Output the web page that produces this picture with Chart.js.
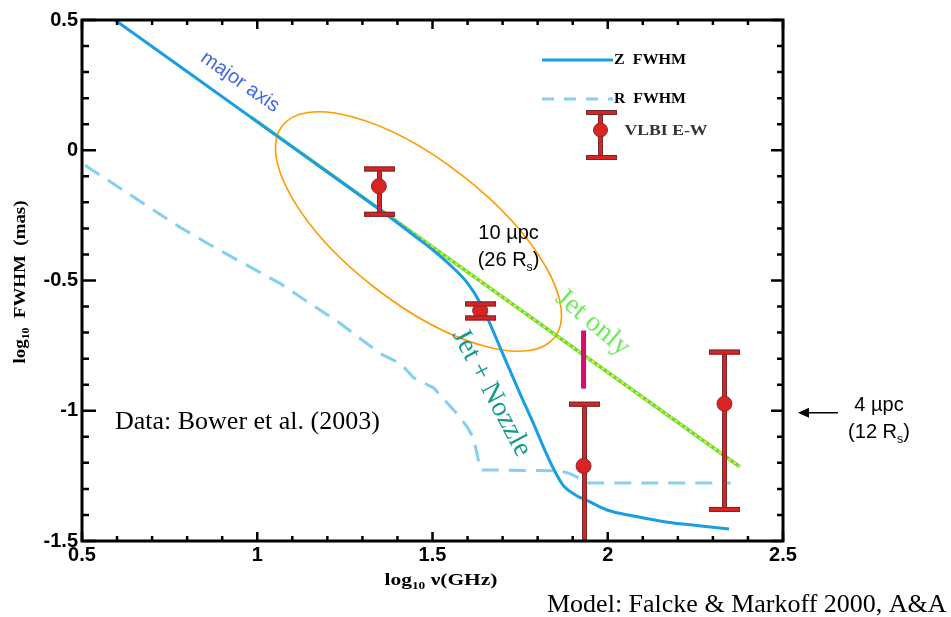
<!DOCTYPE html>
<html>
<head>
<meta charset="utf-8">
<script src="https://cdn.jsdelivr.net/npm/chart.js@4.4.1/dist/chart.umd.min.js"></script>
<style>
  html, body { margin: 0; padding: 0; background: #fff; }
  #wrap { width: 951px; height: 617px; position: relative; }
</style>
</head>
<body>
<div id="wrap"><canvas id="fwhmChart"></canvas></div>
<script>
// Z FWHM (jet + nozzle model)
const zFreq = [0.594, 1.103, 1.343, 1.409, 1.45, 1.503, 1.55, 1.60, 1.637, 1.666, 1.70, 1.75, 1.79, 1.82, 1.85, 1.875, 1.91, 1.943, 2.0, 2.074, 2.171, 2.266, 2.346];
const zFwhm = [0.500, 0.010, -0.222, -0.288, -0.330, -0.385, -0.440, -0.510, -0.588, -0.672, -0.780, -0.935, -1.055, -1.150, -1.235, -1.290, -1.325, -1.346, -1.382, -1.404, -1.428, -1.442, -1.454];

// R FWHM (dashed)
const rFreq = [0.509, 0.780, 0.894, 1.066, 1.237, 1.351, 1.409, 1.446, 1.503, 1.580, 1.600, 1.617, 1.637, 1.866, 1.894, 1.946, 2.351];
const rFwhm = [-0.058, -0.296, -0.385, -0.512, -0.665, -0.781, -0.819, -0.873, -0.912, -1.027, -1.065, -1.104, -1.227, -1.231, -1.242, -1.277, -1.277];

// Jet only model line
const jetFreq = [0.98, 2.377];
const jetFwhm = [0.129, -1.215];

// VLBI E-W measurements with error bars
const vlbiFreq = [1.347, 1.636, 1.931, 2.333];
const vlbiFwhm = [-0.138, -0.615, -1.212, -0.973];
const vlbiHigh = [-0.070, -0.588, -0.973, -0.773];
const vlbiLow = [-0.244, -0.642, -1.62, -1.377];

// magenta marker bar
const barFreq = [1.931];
const barTop = [-0.692];
const barBottom = [-0.915];

const xTicks = [0.5, 1, 1.5, 2, 2.5];
const yTicks = [0.5, 0, -0.5, -1, -1.5];

const SERIF = '"Liberation Serif", "Times New Roman", serif';
const SANS = '"Liberation Sans", Arial, sans-serif';

function pts(xs, ys) {
  return xs.map((x, i) => ({ x: x, y: ys[i] }));
}

// text made of parts, some of them subscript
function drawParts(ctx, parts, x, y, size, font, align) {
  let total = 0;
  const widths = parts.map(p => {
    ctx.font = (p.bold ? 'bold ' : '') + (p.sub ? size * 0.62 : size) + 'px ' + font;
    const w = ctx.measureText(p.t).width;
    total += w;
    return w;
  });
  let cx = align === 'center' ? x - total / 2 : x;
  ctx.textAlign = 'left';
  ctx.textBaseline = 'alphabetic';
  parts.forEach((p, i) => {
    ctx.font = (p.bold ? 'bold ' : '') + (p.sub ? size * 0.62 : size) + 'px ' + font;
    ctx.fillText(p.t, cx, p.sub ? y + size * 0.25 : y);
    cx += widths[i];
  });
  return total;
}

function fitParts(ctx, parts, cx, cy, size, font, targetW) {
  ctx.save();
  let total = 0;
  parts.forEach(p => {
    ctx.font = 'bold ' + (p.sub ? size * 0.62 : size) + 'px ' + font;
    total += ctx.measureText(p.t).width;
  });
  ctx.translate(cx, cy);
  ctx.scale(targetW / total, 1);
  drawParts(ctx, parts.map(p => Object.assign({ bold: true }, p)), -total / 2, size * 0.35, size, font, 'left');
  ctx.restore();
}

function rotText(ctx, text, x, y, deg, font, color) {
  ctx.save();
  ctx.translate(x, y);
  ctx.rotate(deg * Math.PI / 180);
  ctx.font = font;
  ctx.fillStyle = color;
  ctx.textAlign = 'center';
  ctx.textBaseline = 'middle';
  ctx.fillText(text, 0, 0);
  ctx.restore();
}

function errRect(ctx, x, y, w, h) {
  ctx.fillStyle = '#dc2323';
  ctx.strokeStyle = '#6e2c2c';
  ctx.lineWidth = 1;
  ctx.fillRect(x, y, w, h);
  ctx.strokeRect(x + 0.5, y + 0.5, w - 1, h - 1);
}

function clipArea(ctx, a) {
  ctx.beginPath();
  ctx.rect(a.left, a.top, a.right - a.left, a.bottom - a.top);
  ctx.clip();
}

const decorPlugin = {
  id: 'decor',
  beforeDatasetsDraw(chart) {
    const { ctx, scales: { x, y } } = chart;
    // orange ellipse (semi-axes given in x-axis units)
    ctx.save();
    const cx = x.getPixelForValue(1.46), cy = y.getPixelForValue(-0.312);
    const pxPerX = x.getPixelForValue(1.5) - x.getPixelForValue(0.5);
    ctx.beginPath();
    ctx.ellipse(cx, cy, 0.492 * pxPerX, 0.203 * pxPerX, 37.8 * Math.PI / 180, 0, Math.PI * 2);
    ctx.strokeStyle = '#ff9a00';
    ctx.lineWidth = 1.6;
    ctx.stroke();
    ctx.restore();
  },
  beforeDatasetDraw(chart, args) {
    if (args.index !== 0) return;
    const { ctx, chartArea, scales: { x, y } } = chart;
    ctx.save();
    clipArea(ctx, chartArea);
    vlbiFreq.forEach((f, i) => {
      const px = x.getPixelForValue(f);
      const top = y.getPixelForValue(vlbiHigh[i]);
      const bot = y.getPixelForValue(vlbiLow[i]);
      errRect(ctx, Math.round(px) - 2, top, 5, bot - top);
    });
    ctx.restore();
  },
  afterDatasetsDraw(chart) {
    const { ctx, chartArea, scales: { x, y } } = chart;
    ctx.save();
    clipArea(ctx, chartArea);
    // caps
    vlbiFreq.forEach((f, i) => {
      const px = Math.round(x.getPixelForValue(f));
      [vlbiHigh[i], vlbiLow[i]].forEach(v => {
        const py = y.getPixelForValue(v);
        errRect(ctx, px - 15, py - 2, 31, 5);
      });
    });
    // magenta bar
    barFreq.forEach((f, i) => {
      const px = x.getPixelForValue(f);
      ctx.fillStyle = '#d0106a';
      const t = y.getPixelForValue(barTop[i]), b = y.getPixelForValue(barBottom[i]);
      ctx.fillRect(px - 2.5, t, 5, b - t);
    });
    ctx.restore();

    // frame with inward ticks
    ctx.save();
    ctx.strokeStyle = '#000';
    ctx.lineWidth = 3;
    const L = chartArea.left, R = chartArea.right, T = chartArea.top, B = chartArea.bottom;
    ctx.strokeRect(L, T, R - L, B - T);
    ctx.lineWidth = 2.5;
    ctx.beginPath();
    for (let v = xTicks[0]; v <= xTicks[xTicks.length - 1] + 1e-9; v += 0.1) {
      const major = Math.abs(v * 2 - Math.round(v * 2)) < 1e-6;
      const px = x.getPixelForValue(v);
      const len = major ? 9 : 5;
      ctx.moveTo(px, B); ctx.lineTo(px, B - len);
      ctx.moveTo(px, T); ctx.lineTo(px, T + len);
    }
    for (let v = yTicks[yTicks.length - 1]; v <= yTicks[0] + 1e-9; v += 0.1) {
      const major = Math.abs(v * 2 - Math.round(v * 2)) < 1e-6;
      const py = y.getPixelForValue(v);
      ctx.moveTo(L, py); ctx.lineTo(L + (major ? 14 : 7), py);
      ctx.moveTo(R, py); ctx.lineTo(R - (major ? 12 : 6), py);
    }
    ctx.stroke();
    ctx.restore();
  },
  afterDraw(chart) {
    const { ctx, chartArea, scales: { x, y } } = chart;
    ctx.save();

    // legend
    const lx0 = 542, lx1 = 613;
    ctx.lineWidth = 3;
    ctx.strokeStyle = '#1b9de4';
    ctx.beginPath(); ctx.moveTo(lx0, 60); ctx.lineTo(lx1, 60); ctx.stroke();
    ctx.strokeStyle = '#86cff2';
    ctx.setLineDash([12, 10]);
    ctx.beginPath(); ctx.moveTo(lx0, 99); ctx.lineTo(lx1, 99); ctx.stroke();
    ctx.setLineDash([]);
    errRect(ctx, 598, 112, 5, 46);
    errRect(ctx, 586, 110, 31, 5);
    errRect(ctx, 586, 155, 31, 5);
    ctx.beginPath(); ctx.arc(600.5, 130, 7, 0, Math.PI * 2);
    ctx.fillStyle = '#dc2323'; ctx.fill();
    ctx.strokeStyle = '#8a2a2a'; ctx.lineWidth = 1; ctx.stroke();
    ctx.fillStyle = '#000';
    fitParts(ctx, [{ t: 'Z  FWHM' }], 650, 59, 15, SERIF, 72);
    fitParts(ctx, [{ t: 'R  FWHM' }], 650, 98, 15, SERIF, 72);
    ctx.fillStyle = '#333';
    fitParts(ctx, [{ t: 'VLBI E-W' }], 666, 130, 15, SERIF, 83);

    // axis titles
    ctx.fillStyle = '#000';
    fitParts(ctx, [{ t: 'log' }, { t: '10', sub: true }, { t: ' \u03BD(GHz)' }], 441, 579, 17, SERIF, 113);
    ctx.save();
    ctx.translate(19, 282);
    ctx.rotate(-Math.PI / 2);
    fitParts(ctx, [{ t: 'log' }, { t: '10', sub: true }, { t: '  FWHM  (mas)' }], 0, 0, 16, SERIF, 163);
    ctx.restore();

    // annotations inside plot
    rotText(ctx, 'major axis', x.getPixelForValue(0.951), y.getPixelForValue(0.262), 35, '20px ' + SANS, '#4169e8');
    rotText(ctx, 'Jet only', x.getPixelForValue(1.957), y.getPixelForValue(-0.662), 40, '28px ' + SERIF, '#6fec5c');
    rotText(ctx, 'Jet + Nozzle', x.getPixelForValue(1.668), y.getPixelForValue(-0.931), 62, '28px ' + SERIF, '#159a8c');

    ctx.fillStyle = '#000';
    const tx = x.getPixelForValue(1.717);
    drawParts(ctx, [{ t: '10 \u00B5pc' }], tx, y.getPixelForValue(-0.312) + 7, 20, SANS, 'center');
    drawParts(ctx, [{ t: '(26 R' }, { t: 's', sub: true }, { t: ')' }], tx, y.getPixelForValue(-0.419) + 7, 20, SANS, 'center');

    ctx.font = '26px ' + SERIF;
    ctx.textAlign = 'left';
    ctx.textBaseline = 'alphabetic';
    ctx.fillText('Data: Bower et al. (2003)', x.getPixelForValue(0.594), y.getPixelForValue(-1.069));

    // right side: arrow and size label
    const ay = y.getPixelForValue(-1) + 2;
    ctx.strokeStyle = '#000';
    ctx.lineWidth = 1.5;
    ctx.beginPath(); ctx.moveTo(chartArea.right + 55, ay); ctx.lineTo(chartArea.right + 22, ay); ctx.stroke();
    ctx.beginPath();
    ctx.moveTo(chartArea.right + 15, ay);
    ctx.lineTo(chartArea.right + 26, ay - 5);
    ctx.lineTo(chartArea.right + 26, ay + 5);
    ctx.closePath(); ctx.fill();
    drawParts(ctx, [{ t: '4 \u00B5pc' }], chartArea.right + 96, ay - 2, 20, SANS, 'center');
    drawParts(ctx, [{ t: '(12 R' }, { t: 's', sub: true }, { t: ')' }], chartArea.right + 96, ay + 25, 20, SANS, 'center');

    // credit
    ctx.font = '26px ' + SERIF;
    ctx.textAlign = 'left';
    ctx.fillText('Model: Falcke & Markoff 2000, A&A', 547, 612);
    ctx.restore();
  }
};

new Chart(document.getElementById('fwhmChart'), {
  type: 'scatter',
  data: {
    datasets: [
      {
        label: 'VLBI E-W',
        data: pts(vlbiFreq, vlbiFwhm),
        pointRadius: 7.5,
        pointBackgroundColor: '#dc2323',
        pointBorderColor: '#8a2a2a',
        pointBorderWidth: 1,
        showLine: false
      },
      {
        label: 'Z FWHM',
        data: pts(zFreq, zFwhm),
        showLine: true,
        borderColor: '#1b9de4',
        borderWidth: 3,
        pointRadius: 0,
        cubicInterpolationMode: 'monotone'
      },
      {
        label: 'R FWHM',
        data: pts(rFreq, rFwhm),
        showLine: true,
        borderColor: '#86cff2',
        borderWidth: 3,
        borderDash: [17, 10],
        pointRadius: 0
      },
      {
        label: 'Jet only dots',
        data: pts(jetFreq, jetFwhm),
        showLine: true,
        borderColor: '#f4f400',
        borderWidth: 2,
        borderDash: [3, 3],
        pointRadius: 0
      },
      {
        label: 'Jet only',
        data: pts(jetFreq, jetFwhm),
        showLine: true,
        borderColor: '#5fd84c',
        borderWidth: 3.5,
        pointRadius: 0
      }
    ]
  },
  options: {
    responsive: true,
    maintainAspectRatio: false,
    animation: false,
    events: [],
    layout: { padding: { left: 0, top: 20, right: 168, bottom: 0 } },
    plugins: { legend: { display: false }, tooltip: { enabled: false } },
    scales: {
      x: {
        type: 'linear',
        min: xTicks[0],
        max: xTicks[xTicks.length - 1],
        afterBuildTicks: s => { s.ticks = xTicks.map(v => ({ value: v })); },
        afterFit: s => { s.height = 76; },
        border: { display: false },
        grid: { display: false, drawTicks: false },
        ticks: {
          padding: 2,
          color: '#000',
          maxRotation: 0,
          font: { family: SANS, size: 20, weight: 'bold' },
          callback: v => String(v)
        }
      },
      y: {
        type: 'linear',
        min: yTicks[yTicks.length - 1],
        max: yTicks[0],
        afterBuildTicks: s => { s.ticks = yTicks.map(v => ({ value: v })); },
        afterFit: s => { s.width = 82; },
        border: { display: false },
        grid: { display: false, drawTicks: false },
        ticks: {
          padding: 4,
          color: '#000',
          font: { family: SANS, size: 20, weight: 'bold' },
          callback: v => String(v)
        }
      }
    }
  },
  plugins: [decorPlugin]
});
</script>
</body>
</html>
